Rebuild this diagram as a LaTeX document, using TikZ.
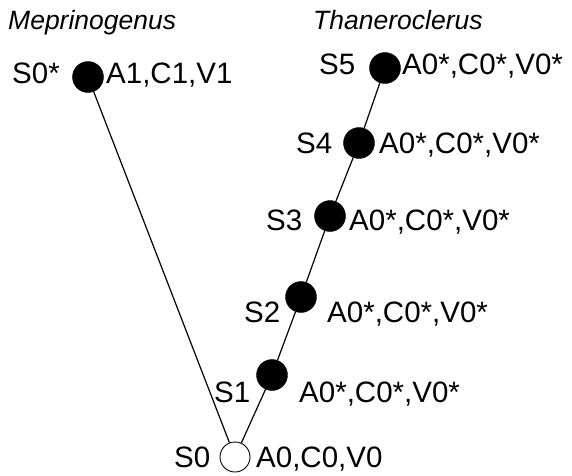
\documentclass[tikz,border=0pt]{standalone}
\usepackage{fontspec}
\setmainfont{Liberation Sans}
\begin{document}
\begin{tikzpicture}[x=1pt,y=-1pt,
  dot/.style={circle,fill=black,draw=black,minimum size=31pt,inner sep=0pt},
  rootdot/.style={circle,fill=white,draw=black,line width=0.9pt,minimum size=30pt,inner sep=0pt},
  lab/.style={anchor=base west,inner sep=0pt,font=\fontsize{29.5}{32}\selectfont},
  taxon/.style={anchor=base west,inner sep=0pt,font=\fontsize{26.5}{29}\selectfont\itshape},
  edge/.style={line width=1.2pt}]
\useasboundingbox (0,0) rectangle (572,475);
% taxa names
\node[taxon] (tmep) at (8,29) {Meprinogenus};
\node[taxon] (ttha) at (313,29) {Thaneroclerus};
% states
\node[dot] (mep) at (88,77) {};
\node[dot] (s5) at (385,68) {};
\node[dot] (s4) at (359,143) {};
\node[dot] (s3) at (330,216) {};
\node[dot] (s2) at (301,297) {};
\node[dot] (s1) at (272,375) {};
\node[rootdot] (s0) at (235,457) {};
% edges
\draw[edge] (s0) -- (mep);
\draw[edge] (s0) -- (s1);
\draw[edge] (s1) -- (s2);
\draw[edge] (s2) -- (s3);
\draw[edge] (s3) -- (s4);
\draw[edge] (s4) -- (s5);
% labels
\node[lab] (lmep) at (12,83) {S0*};
\node[lab] (rmep) at (106,83) {A1,C1,V1};
\node[lab] (l5) at (319,74) {S5};
\node[lab] (r5) at (402,74) {A0*,C0*,V0*};
\node[lab] (l4) at (296,153) {S4};
\node[lab] (r4) at (379,153) {A0*,C0*,V0*};
\node[lab] (l3) at (266,230) {S3};
\node[lab] (r3) at (349,230) {A0*,C0*,V0*};
\node[lab] (l2) at (244,322) {S2};
\node[lab] (r2) at (327,322) {A0*,C0*,V0*};
\node[lab] (l1) at (214,402) {S1};
\node[lab] (r1) at (299,402) {A0*,C0*,V0*};
\node[lab] (l0) at (174,467) {S0};
\node[lab] (r0) at (256,467) {A0,C0,V0};
\end{tikzpicture}
\end{document}
